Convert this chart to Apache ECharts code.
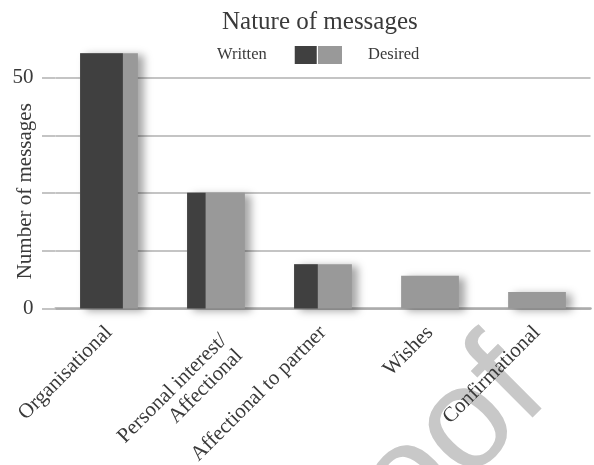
<!DOCTYPE html>
<html><head><meta charset="utf-8">
<script src="https://cdn.jsdelivr.net/npm/echarts@6/dist/echarts.min.js"></script>
<style>html,body{margin:0;padding:0;background:#fff}#c{width:594px;height:465px}</style>
</head><body><div id="c"></div>
<script>
const categories = ['Organisational', 'Personal interest/\nAffectional', 'Affectional to partner', 'Wishes', 'Confirmational'];
const desiredValues = [55.3, 25.1, 9.6, 7.1, 3.6];
const writtenValues = [55.3, 25.1, 9.6, null, null];
const writtenShare = [0.74, 0.32, 0.41, 0, 0];
const yTickValues = [0, 12.5, 25, 37.5, 50];
const yLabelValues = [0, 50];

const FONT = '"Liberation Serif", "Times New Roman", serif';
const TEXT = '#3a3a3a';
const DARK = '#404040', LIGHT = '#999999', GRID = '#c4c4c4';
const BAR_RATIO = 0.54;

function barGeom(api, v) {
  const idx = api.value(0);
  const top = api.coord([idx, v]);
  const base = api.coord([idx, 0]);
  const band = api.size([1, 0])[0];
  const w = band * BAR_RATIO;
  return {x: top[0] - w / 2, y: top[1], w: w, h: base[1] - top[1]};
}

// multi-line category label hangs from its anchor in the reference
const xAxisData = categories.map(c => c.indexOf('\n') >= 0 ? {value: c, textStyle: {verticalAlign: 'top'}} : c);

const chart = echarts.init(document.getElementById('c'), null, {renderer: 'canvas'});
chart.setOption({
  animation: false,
  backgroundColor: '#fff',
  title: {
    text: 'Nature of messages', left: 217, top: 5,
    textStyle: {fontFamily: FONT, fontSize: 25, fontWeight: 'normal', color: TEXT}
  },
  legend: [
    {data: ['Written'], left: 217, top: 46, align: 'right', itemWidth: 22, itemHeight: 18, padding: 0, icon: 'rect',
     textStyle: {fontFamily: FONT, fontSize: 16.5, color: TEXT, padding: [0, 23, 0, 0]}},
    {data: ['Desired'], left: 318, top: 46, align: 'left', itemWidth: 24, itemHeight: 18, padding: 0, icon: 'rect',
     textStyle: {fontFamily: FONT, fontSize: 16.5, color: TEXT, padding: [0, 0, 0, 21]}}
  ],
  grid: {left: 55.5, right: 3.5, top: 50, bottom: 156.5, containLabel: false, outerBoundsMode: 'none'},
  xAxis: {
    type: 'category', data: xAxisData,
    axisLine: {lineStyle: {color: '#ababab', width: 2.5}},
    axisTick: {show: false},
    axisLabel: {rotate: 45, interval: 0, fontFamily: FONT, fontSize: 21, color: TEXT, margin: 21, lineHeight: 22}
  },
  yAxis: {
    type: 'value', min: 0, max: 56, interval: 12.5,
    name: 'Number of messages', nameLocation: 'middle', nameGap: 20, nameMoveOverlap: false,
    nameTextStyle: {fontFamily: FONT, fontSize: 21, color: TEXT, padding: [0, 24, 0, 0]},
    axisLine: {show: false},
    axisTick: {show: true, length: 13.5, customValues: yTickValues, lineStyle: {color: GRID, width: 2}},
    axisLabel: {customValues: yLabelValues, fontFamily: FONT, fontSize: 21, color: TEXT, margin: 22},
    splitLine: {show: true, lineStyle: {color: GRID, width: 2}}
  },
  graphic: [{
    type: 'text', x: 575, y: 421, rotation: Math.PI / 4, z: 0, silent: true,
    style: {text: 'Proof', font: '145px "Liberation Sans", Arial, sans-serif', fill: '#c8c8c8', align: 'right', verticalAlign: 'bottom'}
  }],
  series: [
    {
      name: 'Desired', type: 'custom', z: 3,
      itemStyle: {color: LIGHT},
      encode: {x: 0, y: 1},
      data: desiredValues.map((v, i) => [i, v]),
      renderItem: function (params, api) {
        const v = api.value(1);
        if (v == null || isNaN(v)) return;
        const g = barGeom(api, v);
        return {type: 'rect', shape: {x: g.x, y: g.y, width: g.w, height: g.h},
          style: {fill: LIGHT, shadowBlur: 8, shadowOffsetX: 6, shadowOffsetY: 2, shadowColor: 'rgba(0,0,0,0.35)'}};
      }
    },
    {
      name: 'Written', type: 'custom', z: 4,
      itemStyle: {color: DARK},
      encode: {x: 0, y: 1},
      data: writtenValues.map((v, i) => [i, v, writtenShare[i]]),
      renderItem: function (params, api) {
        const v = api.value(1);
        const s = api.value(2);
        if (v == null || isNaN(v) || !s) return;
        const g = barGeom(api, v);
        return {type: 'rect', shape: {x: g.x, y: g.y, width: g.w * s, height: g.h},
          style: {fill: DARK}};
      }
    }
  ]
});
</script>
</body></html>
